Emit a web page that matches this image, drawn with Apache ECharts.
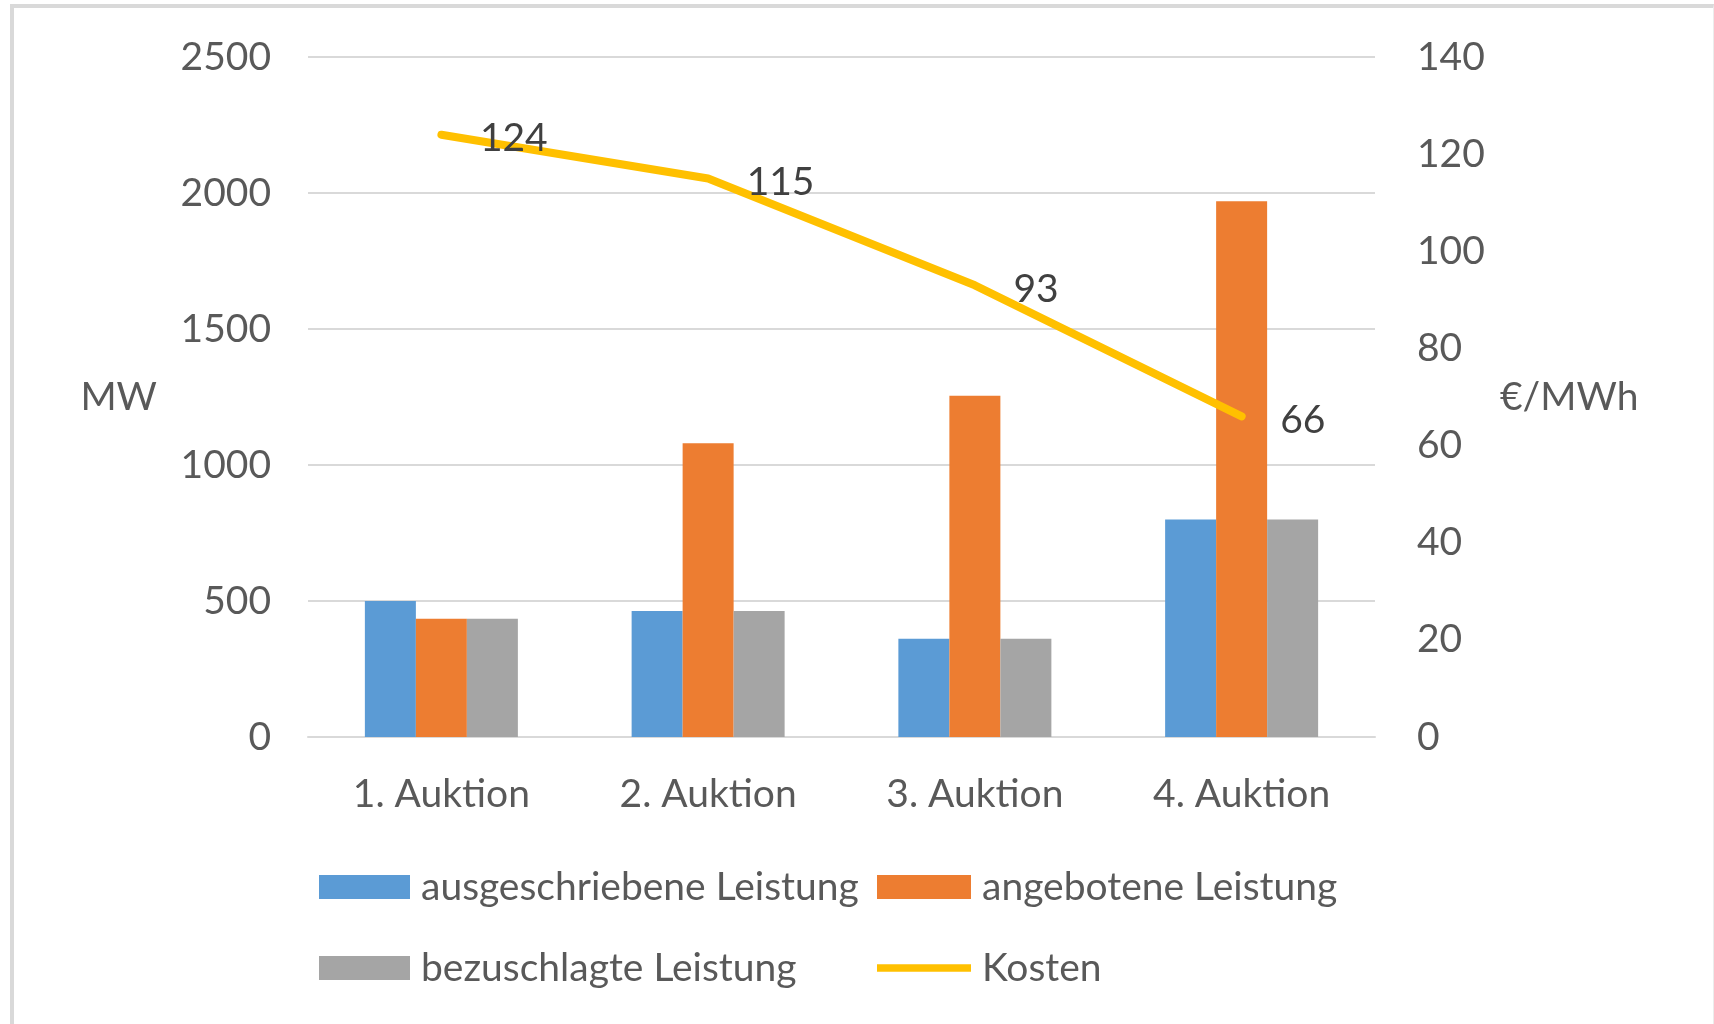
<!DOCTYPE html>
<html>
<head>
<meta charset="utf-8">
<script src="https://cdn.jsdelivr.net/npm/echarts@6/dist/echarts.min.js"></script>
<style>
  html, body { margin: 0; padding: 0; background: #fff; }
  #chart { position: absolute; left: 0; top: 0; width: 1714px; height: 1024px; }
  .frame {
    position: absolute; left: 10px; top: 4px; width: 1699px; height: 1030px;
    border-top: 4px solid #d9d9d9; border-left: 4px solid #d9d9d9; border-right: 1px solid #ececec;
    pointer-events: none;
  }
</style>
</head>
<body>
<div id="chart"></div>
<div class="frame"></div>
<script>
const categories = ['1. Auktion', '2. Auktion', '3. Auktion', '4. Auktion']
const ausgeschrieben = [500, 463, 361, 800]
const angeboten = [435, 1080, 1255, 1970]
const bezuschlagt = [435, 463, 361, 800]
const kosten = [124, 115, 93, 66]

const textColor = '#595959'
const font = 'Lato'
const fs = 39

const chart = echarts.init(document.getElementById('chart'))

const legendText = {
  color: textColor,
  fontFamily: font,
  fontSize: fs,
  lineHeight: 44,
  padding: [0, 0, 0, 6]
}

// flat bar used as the legend icon of the line series
const lineIcon = 'path://M0,0 L100,0 L100,8 L0,8 Z'

chart.setOption({
  animation: false,
  textStyle: { fontFamily: font },
  grid: { left: 308, right: 339, top: 57, bottom: 287 },
  legend: [
    {
      left: 314,
      top: 860,
      orient: 'vertical',
      icon: 'rect',
      itemWidth: 91,
      itemHeight: 24,
      itemGap: 37,
      data: ['ausgeschriebene Leistung', 'bezuschlagte Leistung'],
      textStyle: legendText
    },
    {
      left: 872,
      top: 860,
      orient: 'vertical',
      itemWidth: 94,
      itemHeight: 24,
      itemGap: 37,
      data: [
        { name: 'angebotene Leistung', icon: 'rect' },
        { name: 'Kosten', icon: lineIcon }
      ],
      textStyle: legendText
    }
  ],
  xAxis: {
    type: 'category',
    data: categories,
    axisTick: { show: false },
    axisLine: { lineStyle: { color: '#d9d9d9', width: 2 } },
    axisLabel: { color: textColor, fontSize: fs, margin: 38 }
  },
  yAxis: [
    {
      type: 'value',
      min: 0,
      max: 2500,
      interval: 500,
      name: 'MW',
      nameLocation: 'middle',
      nameRotate: 0,
      nameGap: 151,
      nameTextStyle: { color: textColor, fontSize: fs, align: 'right' },
      axisLabel: { color: textColor, fontSize: fs, margin: 37, formatter: v => String(v) },
      splitLine: { lineStyle: { color: '#d9d9d9', width: 2 } }
    },
    {
      type: 'value',
      min: 0,
      max: 140,
      interval: 20,
      name: '€/MWh',
      nameLocation: 'middle',
      nameRotate: 0,
      nameGap: 125,
      nameTextStyle: { color: textColor, fontSize: fs, align: 'left' },
      axisLabel: { color: textColor, fontSize: fs, margin: 42, formatter: v => String(v) },
      splitLine: { show: false }
    }
  ],
  series: [
    {
      name: 'ausgeschriebene Leistung',
      type: 'bar',
      data: ausgeschrieben,
      barWidth: 51,
      barGap: '0%',
      itemStyle: { color: '#5b9bd5' }
    },
    {
      name: 'angebotene Leistung',
      type: 'bar',
      data: angeboten,
      barWidth: 51,
      barGap: '0%',
      itemStyle: { color: '#ed7d31' }
    },
    {
      name: 'bezuschlagte Leistung',
      type: 'bar',
      data: bezuschlagt,
      barWidth: 51,
      barGap: '0%',
      itemStyle: { color: '#a5a5a5' }
    },
    {
      name: 'Kosten',
      type: 'line',
      yAxisIndex: 1,
      data: kosten,
      symbol: 'circle',
      symbolSize: 1,
      showSymbol: true,
      z: 5,
      itemStyle: { color: '#ffc000' },
      lineStyle: { color: '#ffc000', width: 8, cap: 'round', join: 'round' },
      label: {
        show: true,
        position: 'right',
        distance: 38,
        offset: [0, 4],
        color: '#404040',
        fontSize: fs
      }
    }
  ]
})
</script>
</body>
</html>
